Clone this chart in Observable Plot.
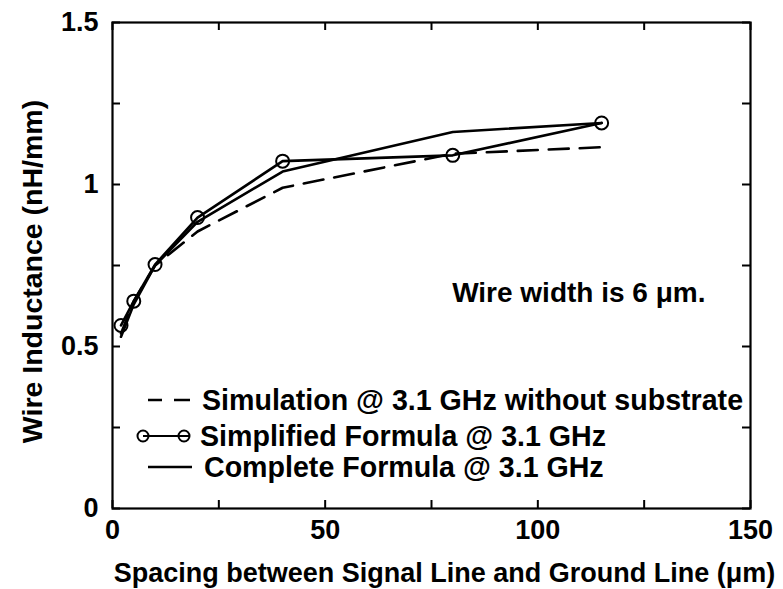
<!DOCTYPE html>
<html><head><meta charset="utf-8">
<script src="https://cdn.jsdelivr.net/npm/d3@7"></script>
<script src="https://cdn.jsdelivr.net/npm/@observablehq/plot@0.6"></script>
<style>
body{margin:0;background:#fff;}
#wrap{position:relative;width:783px;height:589px;}
#wrap svg.legend{position:absolute;left:0;top:0;pointer-events:none;}
</style></head><body><div id="wrap"></div>
<script>
// ---- data ----
const spacing = [2, 5, 10, 20, 40, 80, 115];
const simulation = [0.54, 0.64, 0.75, 0.855, 0.99, 1.095, 1.115];
const simplified = [0.565, 0.64, 0.753, 0.898, 1.072, 1.09, 1.19];
const complete = [0.53, 0.63, 0.75, 0.885, 1.04, 1.162, 1.19];
const xTicks = [0, 50, 100, 150];
const yTicks = [0, 0.5, 1, 1.5];
const xMinor = [0, 25, 50, 75, 100, 125, 150];
const yMinor = [0, 0.25, 0.5, 0.75, 1, 1.25, 1.5];
const seriesNames = ["Simulation @ 3.1 GHz without substrate", "Simplified Formula @ 3.1 GHz", "Complete Formula @ 3.1 GHz"];
const xLabel = "Spacing between Signal Line and Ground Line (μm)";
const yLabel = "Wire Inductance (nH/mm)";
const note = "Wire width is 6 μm.";

// ---- layout ----
const W = 783, H = 589, mL = 112, mR = 33, mT = 22, mB = 81;
const innerW = W - mL - mR, innerH = H - mT - mB;
const tk = 8;
const font = "'Liberation Sans', Arial, Helvetica, sans-serif";
const rows = ys => spacing.map((x, i) => ({x, y: ys[i]}));

const chart = Plot.plot({
  width: W, height: H,
  marginLeft: mL, marginRight: mR, marginTop: mT, marginBottom: mB,
  style: {fontFamily: font, fontSize: "27px", fontWeight: "bold", color: "#000", background: "#fff"},
  x: {domain: [0, 150]},
  y: {domain: [0, 1.5]},
  marks: [
    Plot.axisX(xTicks, {tickSize: 0, tickPadding: 11, tickFormat: d => String(d), label: null}),
    Plot.axisY(yTicks, {tickSize: 0, tickPadding: 14, tickFormat: d => String(d), label: null}),
    Plot.text([xLabel], {frameAnchor: "bottom", dx: 13, dy: 65, textAnchor: "middle", lineAnchor: "middle", fontSize: 27, fontWeight: "bold", fill: "#000"}),
    Plot.text([yLabel], {frameAnchor: "left", dx: -80, dy: 6, rotate: -90, textAnchor: "middle", lineAnchor: "middle", fontSize: 28.5, fontWeight: "bold", fill: "#000"}),
    Plot.ruleX(xMinor, {insetTop: innerH - tk, stroke: "#000", strokeWidth: 2}),
    Plot.ruleX(xMinor, {insetBottom: innerH - tk, stroke: "#000", strokeWidth: 2}),
    Plot.ruleY(yMinor, {insetRight: innerW - tk, stroke: "#000", strokeWidth: 2}),
    Plot.ruleY(yMinor, {insetLeft: innerW - tk, stroke: "#000", strokeWidth: 2}),
    Plot.frame({stroke: "#000", strokeWidth: 2.2}),
    Plot.line(rows(simulation), {x: "x", y: "y", stroke: "#000", strokeWidth: 2.6, strokeDasharray: "20,11"}),
    Plot.line(rows(complete), {x: "x", y: "y", stroke: "#000", strokeWidth: 2.6}),
    Plot.line(rows(simplified), {x: "x", y: "y", stroke: "#000", strokeWidth: 2.6}),
    Plot.dot(rows(simplified), {x: "x", y: "y", r: 6.5, stroke: "#000", strokeWidth: 2, fill: "none"}),
    Plot.text([note], {frameAnchor: "top-right", dx: -45, dy: 271, textAnchor: "end", lineAnchor: "middle", fontSize: 28, fontWeight: "bold", fill: "#000"})
  ]
});
const wrap = document.getElementById("wrap");
wrap.appendChild(chart);

// ---- legend overlay ----
const lg = d3.select(wrap).append("svg").attr("class", "legend")
  .attr("width", W).attr("height", H);
const ly = [400, 436, 467];
const lx = [202, 200, 204];
const g = lg.append("g").attr("stroke", "#000").attr("stroke-width", 2.5).attr("fill", "none");
g.append("line").attr("x1", 148).attr("x2", 162).attr("y1", ly[0]).attr("y2", ly[0]);
g.append("line").attr("x1", 174).attr("x2", 190).attr("y1", ly[0]).attr("y2", ly[0]);
g.append("line").attr("x1", 143).attr("x2", 189).attr("y1", ly[1]).attr("y2", ly[1]).attr("stroke-width", 2);
g.append("circle").attr("cx", 143).attr("cy", ly[1]).attr("r", 5.5).attr("stroke-width", 2);
g.append("circle").attr("cx", 184).attr("cy", ly[1]).attr("r", 5.5).attr("stroke-width", 2);
g.append("line").attr("x1", 148).attr("x2", 192).attr("y1", ly[2]).attr("y2", ly[2]);
lg.selectAll("text.lab").data(seriesNames).join("text").attr("class", "lab")
  .attr("x", (d, i) => lx[i]).attr("y", (d, i) => ly[i])
  .attr("dy", "0.36em")
  .attr("font-family", font).attr("font-size", 28.6).attr("font-weight", "bold").attr("fill", "#000")
  .text(d => d);
</script></body></html>
